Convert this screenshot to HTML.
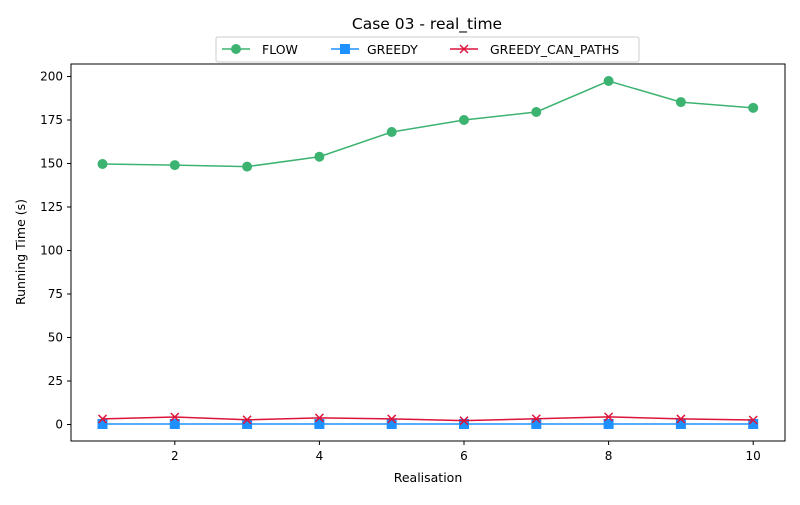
<!DOCTYPE html>
<html><head><meta charset="utf-8"><style>
body{margin:0;background:#fff;font-family:"Liberation Sans","DejaVu Sans",sans-serif;}
svg text{font-family:"DejaVu Sans","Liberation Sans",sans-serif;}
</style></head><body>
<svg id="c" width="800" height="500" xmlns="http://www.w3.org/2000/svg">
<rect width="800" height="500" fill="#fff"/>
<text x="427" y="29" text-anchor="middle" font-size="15.5">Case 03 - real_time</text>
<g id="plot"></g>
<rect x="71" y="64" width="714" height="377" fill="none" stroke="#000" stroke-width="1"/>
<text x="428" y="482" text-anchor="middle" font-size="12.5">Realisation</text>
<text x="25" y="252" text-anchor="middle" font-size="12.5" transform="rotate(-90 25 252)">Running Time (s)</text>
<g>
<rect x="216" y="37" width="423" height="25" fill="#fff" stroke="#ccc" rx="2"/>
<g><line x1="222" y1="49" x2="250" y2="49" stroke="#3cb371" stroke-width="1.5"/><circle cx="236" cy="49" r="5" fill="#3cb371"/><text x="262" y="54" font-size="12.5">FLOW</text></g>
<g><line x1="331" y1="49" x2="359" y2="49" stroke="#1e90ff" stroke-width="1.5"/><rect x="340" y="44" width="10" height="10" fill="#1e90ff"/><text x="367" y="54" font-size="12.5">GREEDY</text></g>
<g><line x1="450" y1="49" x2="478" y2="49" stroke="#dc143c" stroke-width="1.5"/><path d="M460 45 l8 8 M468 45 l-8 8" stroke="#dc143c" stroke-width="1.5"/><text x="490" y="54" font-size="12.5">GREEDY_CAN_PATHS</text></g>
</g>
</svg>
<script>
const realisations=[1,2,3,4,5,6,7,8,9,10];
const flowValues=[149.7,149.1,148.2,153.9,168.1,175,179.6,197.4,185.3,182];
const greedyValues=[0.3,0.3,0.3,0.3,0.3,0.3,0.3,0.3,0.3,0.3];
const greedyCanPathsValues=[3.2,4.3,2.7,3.8,3.2,2.2,3.3,4.4,3.2,2.6];
const xTicks=[2,4,6,8,10];
const yTicks=[0,25,50,75,100,125,150,175,200];
const NS="http://www.w3.org/2000/svg";
const xs=v=>102.5+(v-1)*72.3;
const ys=v=>424.5-v*1.74;
const g=document.getElementById('plot');
function mk(t,a){const e=document.createElementNS(NS,t);for(const k in a)e.setAttribute(k,a[k]);g.appendChild(e);return e;}
xTicks.forEach(t=>{
 const l=mk('line',{x1:xs(t),x2:xs(t),y1:441,y2:445,stroke:'#000'});
 
 
 const tx=mk('text',{x:xs(t),y:460,'text-anchor':'middle','font-size':12});tx.textContent=t;
 
 
});
yTicks.forEach(t=>{
 const l=mk('line',{x1:67,x2:71,y1:ys(t),y2:ys(t),stroke:'#000'});
 
 
 const tx=mk('text',{x:63,y:ys(t)+4,'text-anchor':'end','font-size':12});tx.textContent=t;
 
 
});
function series(vals,color,marker,name){
 const p=mk('polyline',{points:vals.map((v,i)=>xs(realisations[i])+','+ys(v)).join(' '),fill:'none',stroke:color,'stroke-width':1.5});
 
 
 vals.forEach((v,i)=>{
  const x=xs(realisations[i]),y=ys(v);let m;
  if(marker==='o')m=mk('circle',{cx:x,cy:y,r:5,fill:color});
  else if(marker==='s')m=mk('rect',{x:x-5,y:y-5,width:10,height:10,fill:color});
  else m=mk('path',{d:`M${x-4} ${y-4} l8 8 M${x+4} ${y-4} l-8 8`,stroke:color,'stroke-width':1.5});
  
  
 });
}
series(flowValues,'#3cb371','o','flow');
series(greedyValues,'#1e90ff','s','greedy');
series(greedyCanPathsValues,'#dc143c','x','greedy-can-paths');
</script>
</body></html>
